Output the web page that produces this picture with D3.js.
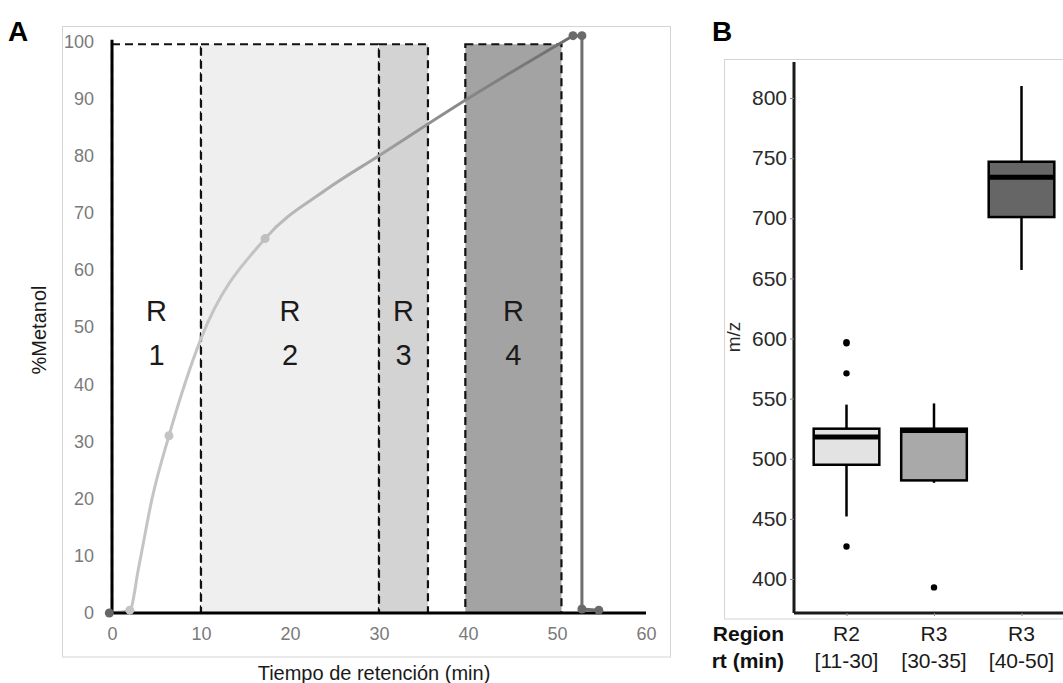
<!DOCTYPE html>
<html>
<head>
<meta charset="utf-8">
<script src="https://cdn.jsdelivr.net/npm/d3@7"></script>
<style>
  body { margin: 0; background: #fff; }
  svg { font-family: "Liberation Sans", Arial, sans-serif; }
</style>
</head>
<body>
<div id="chart"></div>
<script>
// panel A: methanol gradient
const rtTicks = [0, 10, 20, 30, 40, 50, 60];
const pctTicks = [0, 10, 20, 30, 40, 50, 60, 70, 80, 90, 100];
const regionNames = ["R1", "R2", "R3", "R4"];
const regionStart = [0, 10, 30, 39.7];
const regionEnd = [10, 30, 35.5, 50.5];
const regionTop = 99.5;
const programTime = [-0.3, 2, 6.4, 17.2, 51.8, 52.8, 52.8, 54.7];
const programPct = [0, 0.5, 31, 65.5, 101, 101, 0.7, 0.5];
const curveTime = [-0.3, 2, 3, 4.5, 6.4, 10, 17.2, 24, 30, 40, 51.8];
const curvePct = [0, 0.5, 8, 20, 31, 48, 65.5, 74, 80, 90, 101];
const washTime = [51.8, 52.8, 52.8, 54.7];
const washPct = [101, 101, 0.7, 0.5];

// panel B: m/z per region
const boxRegions = ["R2", "R3", "R3"];
const boxRanges = ["[11-30]", "[30-35]", "[40-50]"];
const boxLow = [452, 480, 657];
const boxQ1 = [495, 482, 701];
const boxMedian = [518, 523.5, 734];
const boxQ3 = [525, 525, 747];
const boxHigh = [545, 546, 810];
const boxOutliers = [[597, 596, 571, 427], [393], []];
const mzTicks = [400, 450, 500, 550, 600, 650, 700, 750, 800];

const svg = d3.select("#chart")
  .append("svg")
  .attr("width", 1063)
  .attr("height", 683);

// ---------- A ----------
const x = d3.scaleLinear().domain([0, 60]).range([112, 646]);
const y = d3.scaleLinear().domain([0, 100]).range([613, 41.4]);

svg.append("rect")
  .attr("x", 62.5).attr("y", 26.5)
  .attr("width", 608).attr("height", 630.5)
  .attr("fill", "none").attr("stroke", "#d4d4d4").attr("stroke-width", 1);

svg.append("text")
  .attr("x", 8).attr("y", 41)
  .style("font-size", "28px").style("font-weight", "bold")
  .text("A");

const regionFill = d3.scaleOrdinal()
  .domain(regionNames)
  .range(["#ffffff", "#efefef", "#d3d3d3", "#a3a3a3"]);

const regions = regionNames.map((name, i) => ({ name, start: regionStart[i], end: regionEnd[i] }));

svg.append("g")
  .selectAll("rect")
  .data(regions)
  .join("rect")
    .attr("x", (d) => x(d.start))
    .attr("y", y(regionTop))
    .attr("width", (d) => x(d.end) - x(d.start))
    .attr("height", y(0) - y(regionTop))
    .attr("fill", (d) => regionFill(d.name))
    .attr("stroke", "#111")
    .attr("stroke-width", 2.2)
    .attr("stroke-dasharray", "8,5");

const regionLabels = svg.append("g")
  .selectAll("text")
  .data(regions)
  .join("text")
    .attr("text-anchor", "middle")
    .attr("transform", (d) => `translate(${x((d.start + d.end) / 2)}, 0)`)
    .style("font-size", "29px")
    .style("fill", "#1a1a1a");
regionLabels.append("tspan").attr("x", 0).attr("y", 321).text((d) => d.name[0]);
regionLabels.append("tspan").attr("x", 0).attr("y", 365).text((d) => d.name.slice(1));

// gradient line, light to dark along time
const shade = d3.scaleLinear().domain([15, 52]).range(["#c4c4c4", "#6a6a6a"]).clamp(true);
const grad = svg.append("defs").append("linearGradient")
  .attr("id", "meoh")
  .attr("gradientUnits", "userSpaceOnUse")
  .attr("x1", x(0)).attr("x2", x(55)).attr("y1", 0).attr("y2", 0);
[0, 15, 25, 35, 45, 52, 55].forEach((t) => {
  grad.append("stop").attr("offset", t / 55).attr("stop-color", shade(t));
});

const curvePts = curveTime.map((t, i) => [t, curvePct[i]]);
svg.append("path")
  .datum(curvePts)
  .attr("d", d3.line().x((d) => x(d[0])).y((d) => y(d[1])).curve(d3.curveMonotoneX))
  .attr("fill", "none")
  .attr("stroke", "url(#meoh)")
  .attr("stroke-width", 3);

const washPts = washTime.map((t, i) => [t, washPct[i]]);
svg.append("path")
  .datum(washPts)
  .attr("d", d3.line().x((d) => x(d[0])).y((d) => y(d[1])))
  .attr("fill", "none")
  .attr("stroke", "#6e6e6e")
  .attr("stroke-width", 3);

// axes
const xAxisA = svg.append("g")
  .attr("transform", `translate(0, ${y(0)})`)
  .call(d3.axisBottom(x).tickValues(rtTicks).tickSize(0).tickPadding(14));
xAxisA.select(".domain").attr("stroke", "#000").attr("stroke-width", 3).attr("d", `M${x(0)},0H${x(60)}`);
xAxisA.selectAll("text").style("font-size", "18px").style("fill", "#7a7a7a").style("font-family", "Liberation Sans, Arial, sans-serif");

const yAxisA = svg.append("g")
  .attr("transform", `translate(${x(0)}, 0)`)
  .call(d3.axisLeft(y).tickValues(pctTicks).tickSize(0).tickPadding(18));
yAxisA.select(".domain").attr("stroke", "#000").attr("stroke-width", 3).attr("d", `M0,${y(0)}V${y(100.3)}`);
yAxisA.selectAll("text").style("font-size", "18px").style("fill", "#7a7a7a").style("font-family", "Liberation Sans, Arial, sans-serif");

svg.append("g")
  .selectAll("circle")
  .data(programTime.map((t, i) => [t, programPct[i]]))
  .join("circle")
    .attr("cx", (d) => x(d[0]))
    .attr("cy", (d) => y(d[1]))
    .attr("r", 4.5)
    .attr("fill", (d) => (d[0] < 1 ? "#666666" : shade(d[0])));

svg.append("text")
  .attr("x", 374).attr("y", 680)
  .attr("text-anchor", "middle")
  .style("font-size", "20px").style("fill", "#1a1a1a")
  .text("Tiempo de retención (min)");

svg.append("text")
  .attr("transform", "translate(46, 330) rotate(-90)")
  .attr("text-anchor", "middle")
  .style("font-size", "20px").style("fill", "#1a1a1a")
  .text("%Metanol");

// ---------- B ----------
svg.append("rect")
  .attr("x", 724.5).attr("y", 59.5)
  .attr("width", 400).attr("height", 559.5)
  .attr("fill", "none").attr("stroke", "#d4d4d4").attr("stroke-width", 1);

svg.append("text")
  .attr("x", 712).attr("y", 41)
  .style("font-size", "28px").style("font-weight", "bold")
  .text("B");

const boxes = boxRegions.map((r, i) => ({
  key: r + boxRanges[i],
  region: r,
  range: boxRanges[i],
  low: boxLow[i], q1: boxQ1[i], med: boxMedian[i], q3: boxQ3[i], high: boxHigh[i],
  out: boxOutliers[i],
}));

const step = 87.5;
const bx = d3.scalePoint()
  .domain(boxes.map((d) => d.key))
  .range([794 + 0.6 * step, 794 + 2.6 * step]);
const by = d3.scaleLinear().domain([400, 800]).range([579, 98]);
const boxW = 0.75 * step;
const boxFill = d3.scaleOrdinal().domain(boxes.map((d) => d.key)).range(["#e3e3e3", "#a9a9a9", "#666666"]);

const yAxisB = svg.append("g")
  .attr("transform", "translate(794, 0)")
  .call(d3.axisLeft(by).tickValues(mzTicks).tickSize(4).tickPadding(3));
yAxisB.select(".domain").attr("stroke", "#1a1a1a").attr("stroke-width", 3).attr("d", `M0,${by.range()[0] + 34}V${62}`);
yAxisB.selectAll(".tick line").attr("stroke", "#888");
yAxisB.selectAll("text").style("font-size", "21px").style("fill", "#2a2a2a").style("font-family", "Liberation Sans, Arial, sans-serif");

const xAxisB = svg.append("g")
  .attr("transform", "translate(0, 613)")
  .call(d3.axisBottom(bx).tickSize(3).tickFormat(() => ""));
xAxisB.select(".domain").attr("stroke", "#1a1a1a").attr("stroke-width", 3).attr("d", "M794,0H1063");
xAxisB.selectAll(".tick line").attr("stroke", "#888");

const boxG = svg.append("g")
  .selectAll("g")
  .data(boxes)
  .join("g")
    .attr("transform", (d) => `translate(${bx(d.key)}, 0)`);

boxG.append("line")
  .attr("y1", (d) => by(d.high)).attr("y2", (d) => by(d.q3))
  .attr("stroke", "#000").attr("stroke-width", 2.5);
boxG.append("line")
  .attr("y1", (d) => by(d.q1)).attr("y2", (d) => by(d.low))
  .attr("stroke", "#000").attr("stroke-width", 2.5);
boxG.append("rect")
  .attr("x", -boxW / 2)
  .attr("y", (d) => by(d.q3))
  .attr("width", boxW)
  .attr("height", (d) => by(d.q1) - by(d.q3))
  .attr("fill", (d) => boxFill(d.key))
  .attr("stroke", "#000").attr("stroke-width", 2.5);
boxG.append("line")
  .attr("x1", -boxW / 2).attr("x2", boxW / 2)
  .attr("y1", (d) => by(d.med)).attr("y2", (d) => by(d.med))
  .attr("stroke", "#000").attr("stroke-width", 5);
boxG.selectAll("circle")
  .data((d) => d.out)
  .join("circle")
    .attr("cy", (v) => by(v))
    .attr("r", 3.2)
    .attr("fill", "#000");

const labelsB = svg.append("g")
  .selectAll("g")
  .data(boxes)
  .join("g")
    .attr("transform", (d) => `translate(${bx(d.key)}, 0)`)
    .style("font-size", "21px").style("fill", "#1a1a1a")
    .attr("text-anchor", "middle");
labelsB.append("text").attr("y", 641).text((d) => d.region);
labelsB.append("text").attr("y", 668).text((d) => d.range);

svg.append("text")
  .attr("x", 784).attr("y", 641).attr("text-anchor", "end")
  .style("font-size", "21px").style("font-weight", "bold").style("fill", "#111")
  .text("Region");
svg.append("text")
  .attr("x", 784).attr("y", 668).attr("text-anchor", "end")
  .style("font-size", "21px").style("font-weight", "bold").style("fill", "#111")
  .text("rt (min)");

svg.append("text")
  .attr("transform", "translate(740, 337) rotate(-90)")
  .attr("text-anchor", "middle")
  .style("font-size", "19px").style("fill", "#2a2a2a")
  .text("m/z");
</script>
</body>
</html>
